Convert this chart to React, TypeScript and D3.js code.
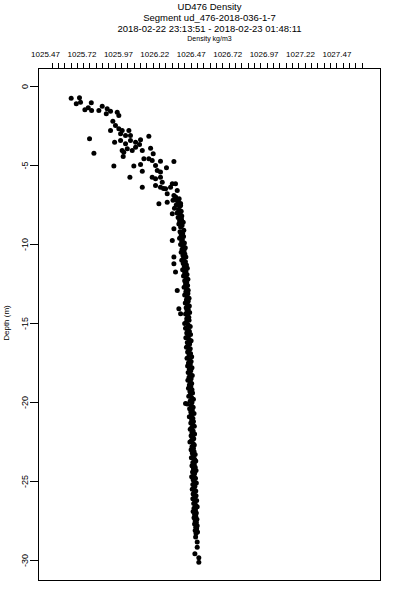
import React, { useEffect, useRef } from "react";
import * as d3 from "d3";

const titleLines = [
  "UD476 Density",
  "Segment ud_476-2018-036-1-7",
  "2018-02-22 23:13:51 - 2018-02-23 01:48:11",
];
const xTitle = "Density kg/m3";
const yTitle = "Depth (m)";

const densityLabels = [1025.47, 1025.72, 1025.97, 1026.22, 1026.47, 1026.72, 1026.97, 1027.22, 1027.47];
const depthLabels = [0, -5, -10, -15, -20, -25, -30];

// [density, depth] pairs
const nearSurface: [number, number][] = [
  [1025.646, -0.74], [1025.703, -0.72], [1025.681, -1.09], [1025.71, -0.99], [1025.784, -1.03],
  [1025.74, -1.47], [1025.763, -1.35], [1025.786, -1.52], [1025.836, -1.52], [1025.859, -1.25],
  [1025.893, -1.41], [1025.887, -1.73], [1025.916, -1.56], [1025.962, -1.63], [1025.973, -1.84],
  [1025.932, -2.2], [1025.95, -2.47], [1025.916, -2.78], [1025.973, -2.68], [1025.996, -2.78],
  [1026.042, -2.78], [1025.772, -3.31], [1025.985, -2.99], [1026.019, -3.1], [1026.053, -3.1],
  [1026.179, -3.15], [1025.944, -3.53], [1025.985, -3.42], [1026.019, -3.63], [1026.053, -3.42],
  [1026.088, -3.53], [1026.122, -3.37], [1026.115, -3.67], [1025.802, -4.22], [1025.996, -4.05],
  [1026.031, -3.94], [1026.065, -4.05], [1026.088, -3.84], [1026.134, -4.05], [1026.191, -3.91],
  [1026.209, -4.26], [1026.003, -4.43], [1026.007, -4.16], [1026.145, -4.58], [1026.179, -4.58],
  [1026.202, -4.68], [1026.259, -4.73], [1026.351, -4.75], [1025.939, -5.04], [1026.076, -5.04],
  [1026.122, -4.94], [1026.134, -5.36], [1026.225, -5.0], [1026.237, -5.32], [1026.259, -5.42],
  [1026.3, -5.15], [1026.049, -5.74], [1026.202, -5.74], [1026.225, -5.84], [1026.259, -5.74],
  [1026.271, -6.06], [1026.134, -6.37], [1026.225, -6.27], [1026.259, -6.37], [1026.294, -6.47],
  [1026.328, -6.37], [1026.362, -6.16], [1026.374, -6.58], [1026.305, -6.79], [1026.351, -6.9],
  [1026.34, -6.16], [1026.28, -6.46], [1026.248, -7.42], [1026.305, -7.32], [1026.374, -7.22],
  [1026.397, -7.53],
];

const column: [number, number][] = [
  [1026.363, -7.0], [1026.387, -7.1], [1026.345, -7.2], [1026.38, -7.3], [1026.397, -7.4],
  [1026.367, -7.5], [1026.39, -7.6], [1026.355, -7.7], [1026.383, -7.8], [1026.401, -7.9],
  [1026.373, -8.0], [1026.394, -8.1], [1026.405, -8.2],
  [1026.38, -8.3], [1026.403, -8.4], [1026.39, -8.5], [1026.415, -8.6], [1026.385, -8.7],
  [1026.407, -8.8], [1026.397, -8.9], [1026.419, -9.1], [1026.393, -9.2], [1026.411, -9.3],
  [1026.401, -9.4], [1026.417, -9.5], [1026.39, -9.6], [1026.409, -9.7],
  [1026.405, -9.8], [1026.423, -9.9], [1026.397, -10.0], [1026.415, -10.1], [1026.429, -10.2],
  [1026.407, -10.3], [1026.421, -10.4], [1026.401, -10.5], [1026.426, -10.6], [1026.413, -10.7],
  [1026.433, -10.8], [1026.417, -10.9], [1026.405, -11.0],
  [1026.43, -11.1], [1026.415, -11.2], [1026.437, -11.3], [1026.423, -11.4], [1026.443, -11.5],
  [1026.411, -11.6], [1026.433, -11.7], [1026.425, -11.8], [1026.441, -11.9], [1026.417, -12.0],
  [1026.435, -12.1], [1026.447, -12.2], [1026.425, -12.3], [1026.439, -12.4], [1026.431, -12.5],
  [1026.445, -12.6], [1026.421, -12.7], [1026.437, -12.8], [1026.449, -12.9],
  [1026.433, -13.0], [1026.447, -13.1], [1026.425, -13.2], [1026.441, -13.3], [1026.455, -13.4],
  [1026.437, -13.5], [1026.449, -13.6], [1026.429, -13.7], [1026.443, -13.8], [1026.457, -13.9],
  [1026.435, -14.0], [1026.449, -14.1], [1026.441, -14.2], [1026.459, -14.3], [1026.431, -14.4],
  [1026.445, -14.5], [1026.453, -14.6], [1026.439, -14.7], [1026.455, -14.8],
  [1026.437, -14.9], [1026.425, -15.0], [1026.449, -15.1], [1026.463, -15.2], [1026.431, -15.3],
  [1026.445, -15.4], [1026.457, -15.5], [1026.439, -15.6], [1026.465, -15.7], [1026.447, -15.8],
  [1026.433, -15.9], [1026.455, -16.0], [1026.469, -16.1], [1026.443, -16.2], [1026.459, -16.3],
  [1026.449, -16.4], [1026.437, -16.5], [1026.463, -16.6], [1026.453, -16.7],
  [1026.445, -16.8], [1026.465, -16.9], [1026.455, -17.0], [1026.473, -17.1], [1026.441, -17.2],
  [1026.459, -17.3], [1026.469, -17.4], [1026.451, -17.5], [1026.463, -17.6], [1026.445, -17.7],
  [1026.475, -17.8], [1026.457, -17.9], [1026.467, -18.0], [1026.449, -18.1], [1026.461, -18.2],
  [1026.477, -18.3], [1026.455, -18.4], [1026.469, -18.5], [1026.447, -18.6], [1026.463, -18.7],
  [1026.473, -18.8], [1026.457, -18.9], [1026.467, -19.0], [1026.451, -19.1], [1026.475, -19.2],
  [1026.461, -19.3], [1026.479, -19.4], [1026.465, -19.5], [1026.453, -19.6], [1026.473, -19.7],
  [1026.485, -19.8], [1026.463, -19.9], [1026.475, -20.0], [1026.443, -20.1], [1026.469, -20.2],
  [1026.483, -20.3], [1026.459, -20.4], [1026.477, -20.5], [1026.467, -20.6], [1026.489, -20.7],
  [1026.471, -20.8], [1026.457, -20.9], [1026.481, -21.0], [1026.473, -21.1],
  [1026.485, -21.2], [1026.467, -21.3], [1026.479, -21.4], [1026.491, -21.5], [1026.473, -21.6],
  [1026.463, -21.7], [1026.483, -21.8], [1026.475, -21.9], [1026.493, -22.0], [1026.469, -22.1],
  [1026.481, -22.2], [1026.487, -22.3], [1026.473, -22.4], [1026.461, -22.5], [1026.483, -22.6],
  [1026.491, -22.7], [1026.475, -22.8], [1026.485, -22.9], [1026.469, -23.0],
  [1026.489, -23.1], [1026.477, -23.2], [1026.497, -23.3], [1026.483, -23.4], [1026.471, -23.5],
  [1026.493, -23.6], [1026.501, -23.7], [1026.481, -23.8], [1026.491, -23.9], [1026.475, -24.0],
  [1026.497, -24.1], [1026.485, -24.2], [1026.503, -24.3], [1026.479, -24.4], [1026.493, -24.5],
  [1026.487, -24.6], [1026.473, -24.7], [1026.499, -24.8], [1026.483, -24.9], [1026.491, -25.0],
  [1026.505, -25.1], [1026.481, -25.2], [1026.495, -25.3], [1026.489, -25.4], [1026.477, -25.5],
  [1026.501, -25.6],
  [1026.491, -25.7], [1026.483, -25.8], [1026.503, -25.9], [1026.493, -26.0], [1026.481, -26.1],
  [1026.507, -26.2], [1026.495, -26.3], [1026.487, -26.4], [1026.501, -26.5], [1026.511, -26.6],
  [1026.489, -26.7], [1026.499, -26.8], [1026.483, -26.9], [1026.505, -27.0], [1026.493, -27.1],
  [1026.501, -27.2], [1026.489, -27.3], [1026.509, -27.4], [1026.497, -27.5], [1026.505, -27.6],
  [1026.493, -27.7], [1026.511, -27.8], [1026.501, -27.9], [1026.507, -28.0], [1026.497, -28.1],
  [1026.513, -28.2], [1026.503, -28.3],
];

const outliers: [number, number][] = [
  [1026.34, -8.06], [1026.351, -9.01], [1026.34, -9.75], [1026.351, -10.8], [1026.351, -11.22],
  [1026.362, -11.75], [1026.374, -12.91], [1026.385, -14.07], [1026.397, -14.39], [1026.431, -20.06],
];

const bottom: [number, number][] = [
  [1026.5, -28.52], [1026.511, -28.84], [1026.511, -29.16], [1026.495, -29.58], [1026.522, -29.83],
  [1026.522, -30.11],
];

export default function App() {
  const ref = useRef<SVGSVGElement>(null);

  useEffect(() => {
    const svg = d3.select(ref.current);
    svg.selectAll("*").remove();

    const width = 400;
    const height = 600;
    const box = { left: 38.5, right: 380.5, top: 68.5, bottom: 580.5 };
    const font = "Liberation Sans, Arial, sans-serif";

    const x = d3.scaleLinear().domain([1025.4217, 1027.769]).range([box.left, box.right]);
    const y = d3.scaleLinear().domain([1.139, -31.27]).range([box.top, box.bottom]);

    svg.attr("width", width).attr("height", height);

    // titles
    const titleY = [10, 21, 32];
    const cx = (box.left + box.right) / 2;
    titleLines.forEach((t, i) => {
      svg
        .append("text")
        .attr("x", cx)
        .attr("y", titleY[i])
        .attr("text-anchor", "middle")
        .attr("font-family", font)
        .attr("font-size", 9.5)
        .text(t);
    });
    svg
      .append("text")
      .attr("x", cx)
      .attr("y", 41)
      .attr("text-anchor", "middle")
      .attr("font-family", font)
      .attr("font-size", 7)
      .text(xTitle);

    // top axis: minor ticks and labels
    const minorTicks = d3.range(50).map((i) => 1025.511 + i * 0.04345);
    svg
      .append("g")
      .selectAll("line")
      .data(minorTicks)
      .join("line")
      .attr("x1", (d) => Math.round(x(d)) + 0.5)
      .attr("x2", (d) => Math.round(x(d)) + 0.5)
      .attr("y1", 63)
      .attr("y2", box.top)
      .attr("stroke", "#000");

    svg
      .append("g")
      .selectAll("text")
      .data(densityLabels)
      .join("text")
      .attr("x", (d) => x(d))
      .attr("y", 57)
      .attr("text-anchor", "middle")
      .attr("font-family", font)
      .attr("font-size", 8)
      .text((d) => d.toFixed(2));

    // left axis
    const yAxis = svg.append("g");
    yAxis
      .selectAll("line")
      .data(depthLabels)
      .join("line")
      .attr("x1", 30)
      .attr("x2", box.left)
      .attr("y1", (d) => Math.round(y(d)) + 0.5)
      .attr("y2", (d) => Math.round(y(d)) + 0.5)
      .attr("stroke", "#000");
    yAxis
      .selectAll("text")
      .data(depthLabels)
      .join("text")
      .attr("transform", (d) => `translate(28,${y(d)}) rotate(-90)`)
      .attr("text-anchor", "middle")
      .attr("font-family", font)
      .attr("font-size", 9)
      .text((d) => String(d));

    svg
      .append("text")
      .attr("transform", `translate(8.5,323) rotate(-90)`)
      .attr("text-anchor", "middle")
      .attr("font-family", font)
      .attr("font-size", 8)
      .text(yTitle);

    // frame
    svg
      .append("rect")
      .attr("x", box.left)
      .attr("y", box.top)
      .attr("width", box.right - box.left)
      .attr("height", box.bottom - box.top)
      .attr("fill", "none")
      .attr("stroke", "#000");

    // points
    const points = [...nearSurface, ...outliers, ...column, ...bottom];
    svg
      .append("g")
      .selectAll("circle")
      .data(points)
      .join("circle")
      .attr("cx", (d) => x(d[0]))
      .attr("cy", (d) => y(d[1]))
      .attr("r", 2.5)
      .attr("fill", "#000");
  }, []);

  return <svg ref={ref} style={{ position: "absolute", left: 0, top: 0, background: "#fff" }} />;
}
